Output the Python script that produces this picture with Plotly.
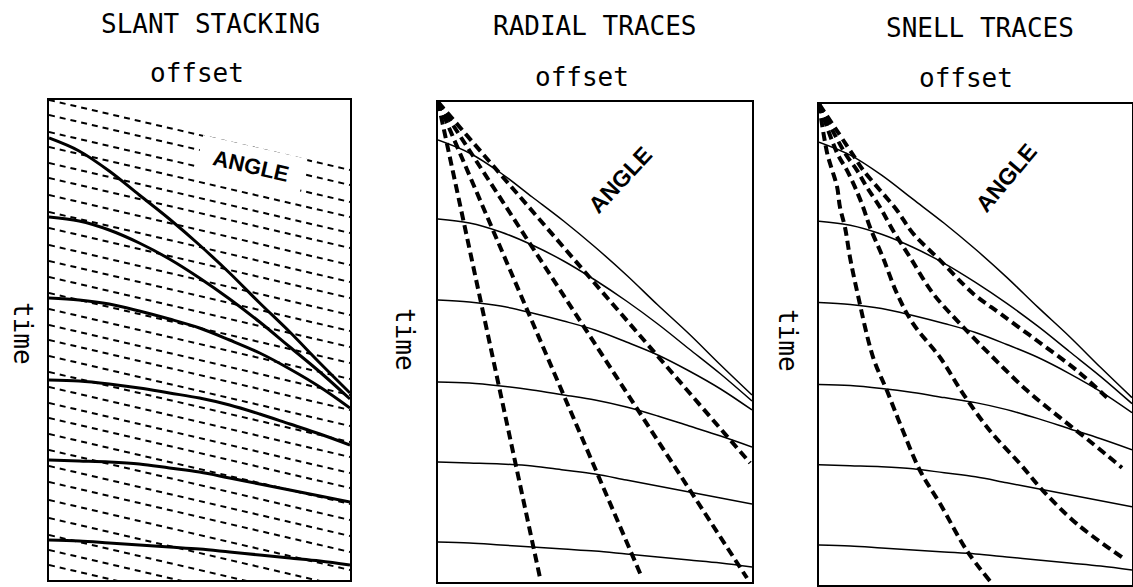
import plotly.graph_objects as go

# ---------------- data ----------------
# time axis: 0 at top of each box, 4.8 at bottom; offset axis: 0..1 across the box
offset = [0.0, 0.1, 0.2, 0.3, 0.4, 0.5, 0.6, 0.7, 0.8, 0.9, 1.0]
hyp_1 = [0.38, 0.51, 0.71, 0.95, 1.19, 1.45, 1.73, 2.03, 2.32, 2.63, 2.93]
hyp_2 = [1.17, 1.21, 1.30, 1.43, 1.59, 1.78, 1.99, 2.22, 2.47, 2.72, 2.99]
hyp_3 = [1.98, 2.00, 2.04, 2.11, 2.19, 2.28, 2.40, 2.53, 2.69, 2.87, 3.08]
hyp_4 = [2.80, 2.81, 2.84, 2.88, 2.93, 2.98, 3.05, 3.14, 3.24, 3.34, 3.45]
hyp_5 = [3.60, 3.61, 3.62, 3.64, 3.68, 3.72, 3.78, 3.84, 3.90, 3.96, 4.02]
hyp_6 = [4.40, 4.41, 4.43, 4.45, 4.47, 4.49, 4.52, 4.55, 4.58, 4.61, 4.65]
hyperbolas = [hyp_1, hyp_2, hyp_3, hyp_4, hyp_5, hyp_6]

# slant-stack lines: time at offset 0 and time at offset 1
slant_t_left = [0.00, 0.15, 0.32, 0.47, 0.63, 0.78, 0.95, 1.12, 1.28, 1.45,
                1.61, 1.77, 1.93, 2.09, 2.25, 2.40, 2.56, 2.72, 2.87, 3.03,
                3.18, 3.34, 3.50, 3.66, 3.82, 4.00, 4.18, 4.35, 4.50, 4.65]
slant_t_right = [0.70, 0.85, 1.02, 1.17, 1.33, 1.48, 1.65, 1.82, 1.98, 2.15,
                 2.31, 2.47, 2.63, 2.79, 2.95, 3.10, 3.26, 3.42, 3.57, 3.73,
                 3.88, 4.04, 4.20, 4.36, 4.52, 4.70, 4.88, 5.05, 5.20, 5.35]

# radial traces: straight rays from the origin to these end points
radial_end_offset = [0.325, 0.650, 0.984, 0.994]
radial_end_time = [4.76, 4.76, 4.76, 3.61]

# Snell traces (curved)
snell_a_x = [0, .026, .042, .058, .067, .083, .099, .121, .173, .217, .268, .323, .387, .473, .546]
snell_a_t = [0, .49, .66, .83, 1.03, 1.23, 1.53, 1.86, 2.53, 2.86, 3.26, 3.66, 3.99, 4.46, 4.76]
snell_b_x = [0, .058, .089, .115, .141, .163, .204, .249, .300, .387, .460, .546, .642, .716, .824, .971]
snell_b_t = [0, .49, .66, .83, 1.03, 1.23, 1.53, 1.89, 2.19, 2.53, 2.89, 3.26, 3.59, 3.86, 4.19, 4.53]
snell_c_x = [0, .083, .121, .153, .195, .236, .291, .364, .450, .556, .665, .770, .875, .968]
snell_c_t = [0, .49, .66, .83, 1.03, 1.26, 1.53, 1.89, 2.19, 2.53, 2.86, 3.13, 3.39, 3.63]
snell_d_x = [0, .105, .141, .195, .249, .300, .387, .492, .578, .696, .824, .930]
snell_d_t = [0, .49, .66, .86, 1.06, 1.29, 1.56, 1.89, 2.09, 2.36, 2.66, 2.96]
snell_x = [snell_a_x, snell_b_x, snell_c_x, snell_d_x]
snell_t = [snell_a_t, snell_b_t, snell_c_t, snell_d_t]

titles = ["SLANT STACKING", "RADIAL TRACES", "SNELL TRACES"]
x_label = "offset"
y_label = "time"
angle_label = "ANGLE"

# ---------------- figure ----------------
W, H = 1133, 587
fig = go.Figure()

# panel boxes in pixels: (left, right, top, bottom)
boxes = [(49, 350, 100, 580), (438, 752, 102, 582), (819, 1132, 104, 585)]

def xd(px):
    return px / W

def yd(py):
    return 1 - py / H

axis_names = [("x", "y"), ("x2", "y2"), ("x3", "y3")]

# panel 1: slant stacking
for tl, tr in zip(slant_t_left, slant_t_right):
    fig.add_trace(go.Scatter(x=[0, 1], y=[tl, tr], mode="lines",
                             line=dict(color="black", width=2, dash="6px,5px"),
                             xaxis="x", yaxis="y", hoverinfo="skip"))
for h in hyperbolas:
    fig.add_trace(go.Scatter(x=offset, y=h, mode="lines",
                             line=dict(color="black", width=3, shape="spline"),
                             xaxis="x", yaxis="y", hoverinfo="skip"))

# panel 2: radial traces
for h in hyperbolas:
    fig.add_trace(go.Scatter(x=offset, y=h, mode="lines",
                             line=dict(color="black", width=1.5, shape="spline"),
                             xaxis="x2", yaxis="y2", hoverinfo="skip"))
for xe, te in zip(radial_end_offset, radial_end_time):
    fig.add_trace(go.Scatter(x=[0, xe], y=[0, te], mode="lines",
                             line=dict(color="black", width=4, dash="9px,5px"),
                             xaxis="x2", yaxis="y2", hoverinfo="skip"))

# panel 3: Snell traces
for h in hyperbolas:
    fig.add_trace(go.Scatter(x=offset, y=h, mode="lines",
                             line=dict(color="black", width=1.5, shape="spline"),
                             xaxis="x3", yaxis="y3", hoverinfo="skip"))
for sx, st in zip(snell_x, snell_t):
    fig.add_trace(go.Scatter(x=sx, y=st, mode="lines",
                             line=dict(color="black", width=4, dash="9px,5px", shape="spline"),
                             xaxis="x3", yaxis="y3", hoverinfo="skip"))

layout = dict(width=W, height=H, margin=dict(l=0, r=0, t=0, b=0),
              paper_bgcolor="white", plot_bgcolor="white", showlegend=False)
for i, ((l, r, t, b), (xn, yn)) in enumerate(zip(boxes, axis_names)):
    lw = 2 if i == 0 else 1.5
    xk = "xaxis" if i == 0 else f"xaxis{i+1}"
    yk = "yaxis" if i == 0 else f"yaxis{i+1}"
    layout[xk] = dict(domain=[xd(l), xd(r)], range=[0, 1], showgrid=False, zeroline=False,
                      showticklabels=False, ticks="", showline=True, mirror=True,
                      linecolor="black", linewidth=lw, anchor=yn, fixedrange=True)
    layout[yk] = dict(domain=[yd(b), yd(t)], range=[4.8, 0], showgrid=False, zeroline=False,
                      showticklabels=False, ticks="", showline=True, mirror=True,
                      linecolor="black", linewidth=lw, anchor=xn, fixedrange=True)
fig.update_layout(**layout)

title_font = dict(family="DejaVu Sans Mono", size=26, color="black")
title_pos = [(210, 24), (595, 26), (980, 28)]
offset_pos = [(197, 73), (582, 77), (966, 78)]
time_pos = [(23, 333), (405, 340), (788, 340)]
for i in range(3):
    fig.add_annotation(text=titles[i], x=xd(title_pos[i][0]), y=yd(title_pos[i][1]),
                       xref="paper", yref="paper", showarrow=False, font=title_font,
                       xanchor="center", yanchor="middle")
    fig.add_annotation(text=x_label, x=xd(offset_pos[i][0]), y=yd(offset_pos[i][1]),
                       xref="paper", yref="paper", showarrow=False, font=title_font,
                       xanchor="center", yanchor="middle")
    fig.add_annotation(text=y_label, x=xd(time_pos[i][0]), y=yd(time_pos[i][1]),
                       xref="paper", yref="paper", showarrow=False, font=title_font,
                       textangle=90, xanchor="center", yanchor="middle")

fig.add_annotation(text=angle_label, x=xd(251), y=yd(166), xref="paper", yref="paper",
                   showarrow=False, textangle=13, xanchor="center", yanchor="middle",
                   font=dict(family="Liberation Sans", size=22, color="black", weight="bold"),
                   bgcolor="white", width=106, height=38, borderpad=0)
fig.add_annotation(text=angle_label, x=xd(620), y=yd(180), xref="paper", yref="paper",
                   showarrow=False, textangle=-47, xanchor="center", yanchor="middle",
                   font=dict(family="Liberation Sans", size=23, color="black", weight="bold"))
fig.add_annotation(text=angle_label, x=xd(1006), y=yd(178), xref="paper", yref="paper",
                   showarrow=False, textangle=-50, xanchor="center", yanchor="middle",
                   font=dict(family="Liberation Sans", size=23, color="black", weight="bold"))

fig.write_html("out.html", config={"displayModeBar": False},
               post_script="document.body.style.margin='0';")
